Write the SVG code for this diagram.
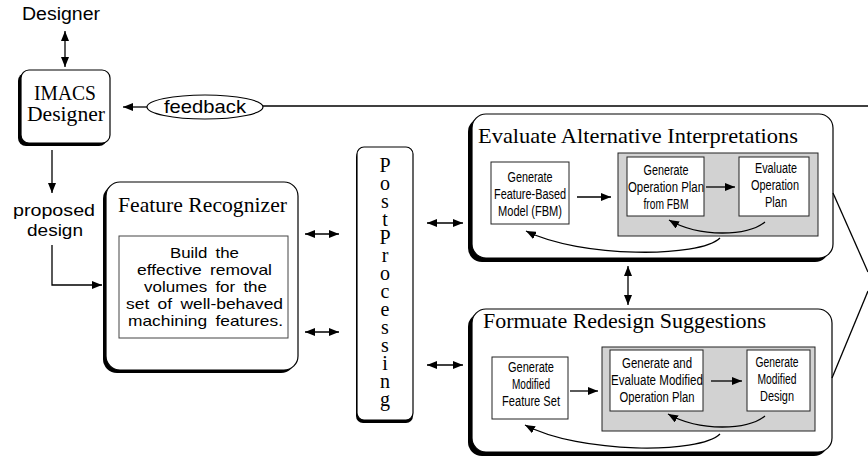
<svg xmlns="http://www.w3.org/2000/svg" width="868" height="458" viewBox="0 0 868 458">
<style>
.sh{fill:#000;stroke:none}
.bx{fill:#fff;stroke:#000;stroke-width:1.2}
.in{fill:#fff;stroke:#222;stroke-width:1}
.gr{fill:#d2d2d2;stroke:#222;stroke-width:1}
.serif{font-family:"Liberation Serif","Times New Roman",serif;fill:#000}
.sans{font-family:"Liberation Sans",Arial,sans-serif;fill:#000}
.nar{font-family:"Liberation Sans",Arial,sans-serif;font-size:14px;fill:#000;text-anchor:middle}
.ln{fill:none;stroke:#000;stroke-width:1.3}
.a2{marker-start:url(#ah);marker-end:url(#ah)}
.a1{marker-end:url(#ah)}
</style>
<defs>
<marker id="ah" markerWidth="10" markerHeight="8" refX="10" refY="4" orient="auto-start-reverse" markerUnits="userSpaceOnUse"><path d="M0,0 L10,4 L0,8 z" fill="#000"/></marker>
</defs>

<g id="designer-label">
<text class="sans" x="61" y="20" font-size="18" text-anchor="middle" textLength="78" lengthAdjust="spacingAndGlyphs">Designer</text>
</g>

<g id="imacs-designer">
<rect class="sh" x="18" y="73" width="89" height="73" rx="8"/>
<rect class="bx" x="21" y="70" width="89" height="73" rx="8"/>
<text class="serif" x="65" y="100" font-size="20" text-anchor="middle" textLength="62" lengthAdjust="spacingAndGlyphs">IMACS</text>
<text class="serif" x="66" y="121" font-size="20" text-anchor="middle" textLength="78" lengthAdjust="spacingAndGlyphs">Designer</text>
</g>

<g id="feedback">
<ellipse cx="205" cy="107" rx="58" ry="12" fill="#fff" stroke="#000" stroke-width="1.2"/>
<text class="sans" x="205" y="113" font-size="19" text-anchor="middle" textLength="82" lengthAdjust="spacingAndGlyphs">feedback</text>
</g>

<g id="proposed-design">
<text class="sans" x="54" y="216" font-size="17.3" text-anchor="middle" textLength="82" lengthAdjust="spacingAndGlyphs">proposed</text>
<text class="sans" x="55" y="236" font-size="17.3" text-anchor="middle" textLength="56" lengthAdjust="spacingAndGlyphs">design</text>
</g>

<g id="feature-recognizer">
<rect class="sh" x="103" y="185" width="192" height="188" rx="14"/>
<rect class="bx" x="106" y="182" width="192" height="188" rx="14"/>
<text class="serif" x="118" y="212" font-size="21" textLength="169" lengthAdjust="spacingAndGlyphs">Feature Recognizer</text>
<rect x="119" y="236" width="169" height="102" fill="#fff" stroke="#444" stroke-width="1"/>
<g class="sans" font-size="14.8" text-anchor="middle" word-spacing="3">
<text x="204.5" y="258" textLength="69" lengthAdjust="spacingAndGlyphs">Build the</text>
<text x="204.5" y="275" textLength="135" lengthAdjust="spacingAndGlyphs">effective removal</text>
<text x="205.5" y="292" textLength="123" lengthAdjust="spacingAndGlyphs">volumes for the</text>
<text x="204.5" y="309" textLength="157" lengthAdjust="spacingAndGlyphs">set of well-behaved</text>
<text x="205.5" y="326" textLength="155" lengthAdjust="spacingAndGlyphs">machining features.</text>
</g>
</g>

<g id="post-processing">
<rect class="sh" x="356" y="150" width="57" height="273" rx="7"/>
<rect class="bx" x="357" y="147" width="56" height="273" rx="7"/>
<text class="serif" x="385" y="154" font-size="20" writing-mode="vertical-rl" letter-spacing="-4" style="text-orientation:upright">PostProcessing</text>
</g>

<g id="evaluate-alternative">
<rect class="sh" x="468" y="118" width="361" height="144" rx="14"/>
<rect class="bx" x="472" y="114" width="361" height="144" rx="14"/>
<text class="serif" x="478" y="143" font-size="21" textLength="320" lengthAdjust="spacingAndGlyphs">Evaluate Alternative Interpretations</text>
<rect class="gr" x="618" y="153" width="200" height="83"/>
</g>

<g id="generate-fbm">
<rect class="in" x="491" y="162" width="78" height="62"/>
<text class="nar" x="530" y="182" textLength="45" lengthAdjust="spacingAndGlyphs">Generate</text>
<text class="nar" x="530" y="199" textLength="72" lengthAdjust="spacingAndGlyphs">Feature-Based</text>
<text class="nar" x="530" y="216" textLength="64" lengthAdjust="spacingAndGlyphs">Model (FBM)</text>
</g>

<g id="generate-op-plan">
<rect class="in" x="627" y="157" width="77" height="59"/>
<text class="nar" x="666" y="175" textLength="45" lengthAdjust="spacingAndGlyphs">Generate</text>
<text class="nar" x="666" y="192" textLength="76" lengthAdjust="spacingAndGlyphs">Operation Plan</text>
<text class="nar" x="666" y="209" textLength="45" lengthAdjust="spacingAndGlyphs">from FBM</text>
</g>

<g id="evaluate-op-plan">
<rect class="in" x="739" y="157" width="70" height="59"/>
<text class="nar" x="776" y="173" textLength="42" lengthAdjust="spacingAndGlyphs">Evaluate</text>
<text class="nar" x="775" y="190" textLength="48" lengthAdjust="spacingAndGlyphs">Operation</text>
<text class="nar" x="776" y="207" textLength="22" lengthAdjust="spacingAndGlyphs">Plan</text>
</g>

<g id="formulate-redesign">
<rect class="sh" x="468" y="313" width="360" height="143" rx="14"/>
<rect class="bx" x="472" y="309" width="360" height="143" rx="14"/>
<text class="serif" x="483" y="328" font-size="21" textLength="283" lengthAdjust="spacingAndGlyphs">Formuate Redesign Suggestions</text>
<rect class="gr" x="602" y="347" width="213" height="84"/>
</g>

<g id="generate-modified-feature-set">
<rect class="in" x="492" y="357" width="76" height="62"/>
<text class="nar" x="531" y="372" textLength="46" lengthAdjust="spacingAndGlyphs">Generate</text>
<text class="nar" x="531" y="389" textLength="38" lengthAdjust="spacingAndGlyphs">Modified</text>
<text class="nar" x="531" y="406" textLength="58" lengthAdjust="spacingAndGlyphs">Feature Set</text>
</g>

<g id="generate-evaluate-modified">
<rect class="in" x="610" y="350" width="93" height="61"/>
<text class="nar" x="657" y="368" textLength="70" lengthAdjust="spacingAndGlyphs">Generate and</text>
<text class="nar" x="657" y="385" textLength="92" lengthAdjust="spacingAndGlyphs">Evaluate Modified</text>
<text class="nar" x="657" y="402" textLength="75" lengthAdjust="spacingAndGlyphs">Operation Plan</text>
</g>

<g id="generate-modified-design">
<rect class="in" x="747" y="350" width="63" height="61"/>
<text class="nar" x="777" y="367" textLength="43" lengthAdjust="spacingAndGlyphs">Generate</text>
<text class="nar" x="777" y="384" textLength="39" lengthAdjust="spacingAndGlyphs">Modified</text>
<text class="nar" x="777" y="401" textLength="34" lengthAdjust="spacingAndGlyphs">Design</text>
</g>

<g id="connectors">
<line class="ln a2" x1="65" y1="31" x2="65" y2="67"/>
<line class="ln a1" x1="147" y1="107" x2="123" y2="107"/>
<line class="ln" x1="263" y1="106" x2="868" y2="106"/>
<line class="ln a1" x1="52" y1="150" x2="52" y2="193"/>
<polyline class="ln a1" points="52,245 52,285 102,285"/>
<line class="ln a2" x1="305" y1="234" x2="339" y2="234"/>
<line class="ln a2" x1="305" y1="332" x2="339" y2="332"/>
<line class="ln a2" x1="427" y1="223" x2="463" y2="223"/>
<line class="ln a2" x1="427" y1="365" x2="463" y2="365"/>
<line class="ln a2" x1="628" y1="266" x2="628" y2="305"/>
<line class="ln a1" x1="577" y1="197" x2="611" y2="197"/>
<line class="ln a1" x1="706" y1="187" x2="735" y2="187"/>
<path class="ln a1" d="M765,222 C748,236 700,238 669,220"/>
<path class="ln a1" d="M720,238 C700,258 580,258 526,231"/>
<line class="ln a1" x1="570" y1="391" x2="598" y2="391"/>
<line class="ln a1" x1="711" y1="381" x2="742" y2="381"/>
<path class="ln a1" d="M765,416 C748,430 700,432 668,414"/>
<path class="ln a1" d="M720,434 C700,454 580,454 525,425"/>
<line class="ln" x1="833" y1="193" x2="868" y2="272"/>
<line class="ln" x1="832" y1="378" x2="868" y2="291"/>
</g>
</svg>
